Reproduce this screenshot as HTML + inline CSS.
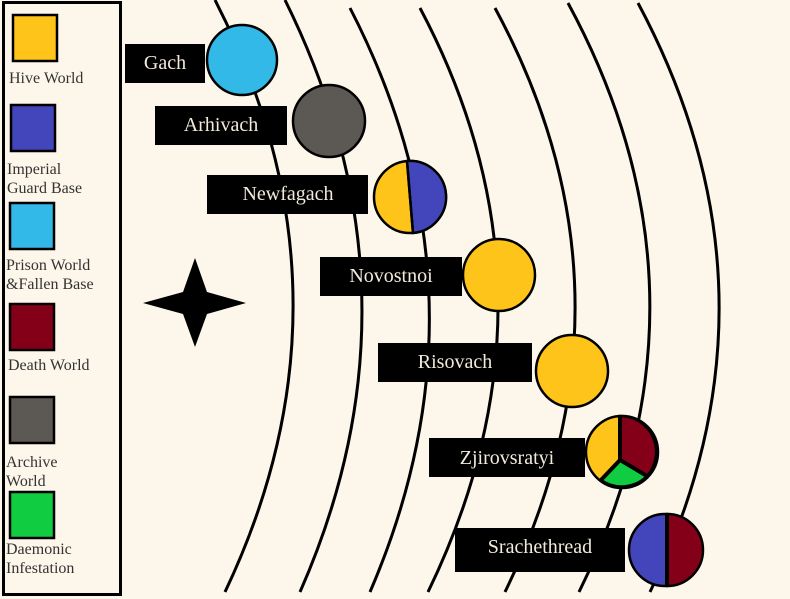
<!DOCTYPE html>
<html><head><meta charset="utf-8"><style>
html,body{margin:0;padding:0;background:#fdf6ea;}
svg{display:block}
text{font-family:"Liberation Serif",serif;}
</style></head><body>
<svg width="790" height="599" viewBox="0 0 790 599" xmlns="http://www.w3.org/2000/svg">
<rect width="790" height="599" fill="#fdf6ea"/>
<g fill="none" stroke="#000" stroke-width="3">
<path d="M215 0 Q366 295 225 592"/>
<path d="M285 0 Q431 295 300 592"/>
<path d="M350 8 Q498 295 370 592"/>
<path d="M420 8 Q572 295 428 592"/>
<path d="M495 8 Q650 295 505 592"/>
<path d="M568 3 Q726 295 579 592"/>
<path d="M638 3 Q794 295 650 592"/>
</g>
<rect x="3.5" y="2.5" width="117" height="592" fill="none" stroke="#000" stroke-width="3"/>
<g stroke="#000" stroke-width="2.5">
<rect x="13" y="15" width="44" height="46" fill="#fec41a"/>
<rect x="11" y="105" width="44" height="46" fill="#4346bb"/>
<rect x="10" y="203" width="44" height="46" fill="#32b9e8"/>
<rect x="10" y="304" width="44" height="46" fill="#840018"/>
<rect x="10" y="397" width="44" height="46" fill="#5c5853"/>
<rect x="10" y="492" width="44" height="46" fill="#10cc40"/>
</g>
<g font-size="16" fill="#333">
<text x="9" y="83">Hive World</text>
<text x="7" y="174">Imperial</text>
<text x="7" y="193">Guard Base</text>
<text x="6" y="270">Prison World</text>
<text x="6" y="289">&amp;Fallen Base</text>
<text x="8" y="370">Death World</text>
<text x="6" y="467">Archive</text>
<text x="6" y="486">World</text>
<text x="6" y="554">Daemonic</text>
<text x="6" y="573">Infestation</text>
</g>
<polygon points="195,258 207,292 246,303 207,314 195,347 183,314 143,303 183,292" fill="#000"/>
<g fill="#000">
<rect x="125" y="44" width="80" height="39"/>
<rect x="155" y="106" width="132" height="39"/>
<rect x="207" y="175" width="161" height="39"/>
<rect x="320" y="257" width="142" height="39"/>
<rect x="378" y="343" width="154" height="39"/>
<rect x="429" y="438" width="156" height="39"/>
<rect x="455" y="528" width="170" height="44"/>
</g>
<g font-size="20" fill="#f2ebdc" text-anchor="middle">
<text x="165" y="69">Gach</text>
<text x="221" y="131">Arhivach</text>
<text x="288" y="200">Newfagach</text>
<text x="391" y="282">Novostnoi</text>
<text x="455" y="368">Risovach</text>
<text x="507" y="464">Zjirovsratyi</text>
<text x="540" y="553">Srachethread</text>
</g>
<g stroke="#000" stroke-width="2.5">
<circle cx="242" cy="60" r="35" fill="#32b9e8"/>
<circle cx="329" cy="121" r="36" fill="#5c5853"/>
<circle cx="410" cy="197" r="36" fill="#fec41a"/>
<path d="M407 161 A36 36 0 0 1 413 233 Z" fill="#4346bb"/>
<line x1="407" y1="161" x2="413" y2="233"/>
<circle cx="499" cy="275" r="36" fill="#fec41a"/>
<circle cx="572" cy="371" r="36" fill="#fec41a"/>
<circle cx="622" cy="452" r="36" fill="#fec41a"/>
<path d="M620 416 A36 36 0 0 1 647 476 L620 460 Z" fill="#840018"/>
<path d="M647 476 A36 36 0 0 1 601 480 L620 460 Z" fill="#10cc40"/>
<path d="M620 416 L620 460 L647 476 M620 460 L601 480" fill="none" stroke-width="4"/>
<circle cx="665" cy="550" r="36" fill="#4346bb"/>
<path d="M667 514 A36 36 0 0 1 667 586 Z" fill="#840018"/>
<line x1="667" y1="514" x2="667" y2="586" stroke-width="4"/>
</g>
</svg>
</body></html>
